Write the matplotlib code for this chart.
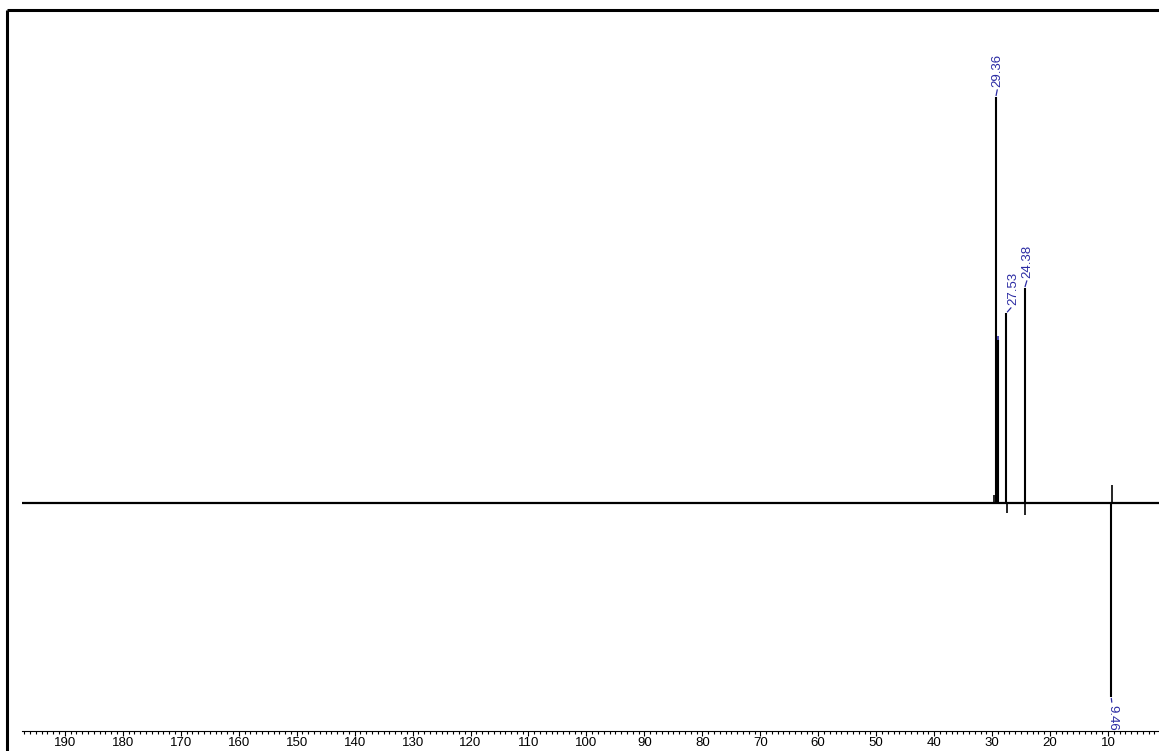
import numpy as np
import matplotlib
matplotlib.use('Agg')
from matplotlib import pyplot as plt
from matplotlib.lines import Line2D
import matplotlib.ticker as mticker

# peak list (ppm, height above baseline in plot units)
peak_ppm = [29.36, 29.05, 27.53, 24.38, 9.46]
peak_height = [406, 163, 190, 215, -194]
peak_label = ['29.36', '', '27.53', '24.38', '9.46']

# small baseline artefacts next to the peaks
artefact_ppm = [29.60, 27.40, 24.25, 9.25]
artefact_height = [8, -10, -12, 18]

baseline = 228
ppm_left, ppm_right = 197.4, 1.2
major_ticks = list(range(190, 0, -10))

plt.rcParams['font.family'] = ['Liberation Sans', 'DejaVu Sans']
blue = '#2b2ba3'

W, H = 1159, 751
fig = plt.figure(figsize=(W / 100, H / 100), dpi=100)
ax = fig.add_axes([22 / W, (H - 731) / H, (W - 22) / W, (731 - 10) / H])

# baseline and peaks
ax.plot([ppm_left, ppm_right], [baseline, baseline], color='k', lw=1.6)
ax.vlines(peak_ppm, baseline, [baseline + h for h in peak_height], color='k', lw=1.5)
ax.vlines(artefact_ppm, baseline, [baseline + h for h in artefact_height], color='k', lw=1.2)

# label offsets in pixels (dx, dy)
offsets = {'29.36': (2, 10), '27.53': (7, 8), '24.38': (3, 10), '9.46': (1, -8)}
for p, h, lab in zip(peak_ppm, peak_height, peak_label):
    top = baseline + h
    if not lab:
        # clipped label marker
        ax.vlines(p, top, top + 4, color=blue, lw=1.2)
        continue
    dx, dy = offsets[lab]
    if h > 0:
        ax.annotate(lab, xy=(p, top), xytext=(dx, dy), textcoords='offset pixels',
                    rotation=90, ha='center', va='bottom', color=blue, fontsize=9.5,
                    arrowprops=dict(arrowstyle='-', color=blue, lw=0.9,
                                    shrinkA=0, shrinkB=1, relpos=(0.5, 0)))
    else:
        ax.annotate(lab, xy=(p, top), xytext=(dx, dy), textcoords='offset pixels',
                    rotation=-90, ha='center', va='top', color=blue, fontsize=9.5,
                    arrowprops=dict(arrowstyle='-', color=blue, lw=0.9,
                                    shrinkA=0, shrinkB=1, relpos=(0.5, 1)))

ax.set_xlim(ppm_left, ppm_right)
ax.set_ylim(0, 721)
for s in ['top', 'right', 'left']:
    ax.spines[s].set_visible(False)
ax.spines['bottom'].set_linewidth(0.8)
ax.set_yticks([])
ax.xaxis.set_major_locator(mticker.FixedLocator(major_ticks))
ax.xaxis.set_minor_locator(mticker.MultipleLocator(1))
ax.tick_params(axis='x', which='major', length=3.5, width=0.8, pad=1, labelsize=9.5)
ax.tick_params(axis='x', which='minor', length=2, width=0.8)
ax.patch.set_visible(False)

# frame lines (top and left)
fig.add_artist(Line2D([7 / W, 1], [1 - 10 / H, 1 - 10 / H], transform=fig.transFigure,
                      color='k', lw=2.2, solid_capstyle='butt'))
fig.add_artist(Line2D([7 / W, 7 / W], [0, 1 - 10 / H], transform=fig.transFigure,
                      color='k', lw=2.2, solid_capstyle='butt'))

fig.savefig('out.png', dpi=100)
